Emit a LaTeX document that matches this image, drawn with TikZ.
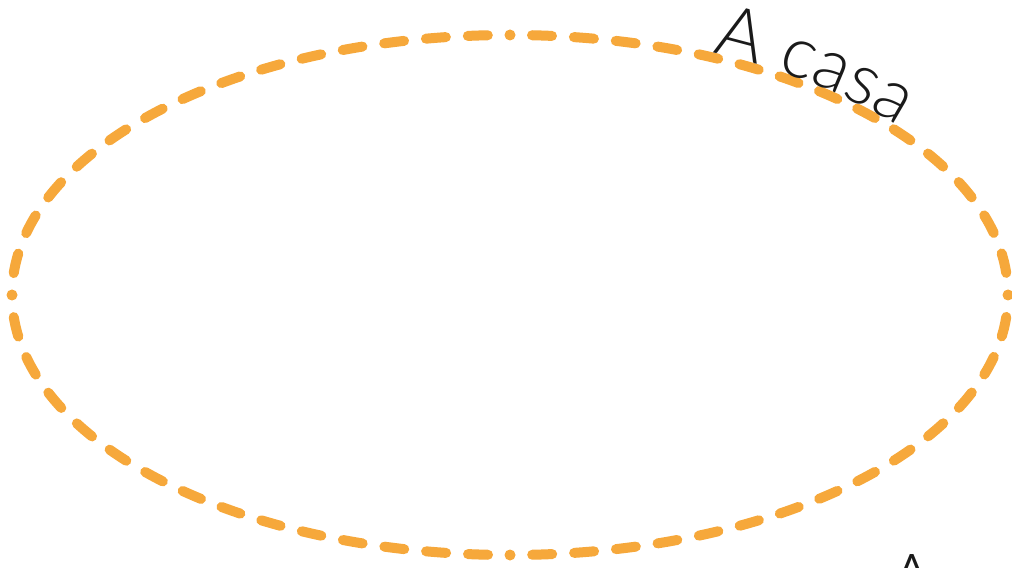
\documentclass[tikz,border=0pt]{standalone}
\usepackage{fontspec}
\IfFontExistsTF{Lato Light}{\newfontfamily\handfont{Lato Light}}{\newfontfamily\handfont{Liberation Sans}}
\usepackage{xcolor}
\usepackage{tikz}
\usetikzlibrary{decorations.text}
\definecolor{RimOrange} {HTML}{F6A83B}
\definecolor{InkText}   {HTML}{1A1A1A}
\tikzset{
  rim/.style={draw=RimOrange,line width=0.2cm,line cap=round,
              dash pattern=on 0.4cm off 0.44cm,dash phase=0.4cm},
  rimdot/.style={fill=RimOrange},
  labelfont/.style={font=\handfont\fontsize{41}{41}\selectfont,text=InkText}
}

\begin{document}
\begin{tikzpicture}
    \useasboundingbox (0,0) rectangle (20.24,11.34);
    \clip (0,0) rectangle (20.24,11.34);
    \coordinate (ctr) at (10.2,5.44);
    \coordinate (top) at (10.2,10.64);
    \coordinate (rgt) at (20.16,5.44);
    \coordinate (bot) at (10.2,0.24);
    \coordinate (lft) at (0.24,5.44);
    % the dashed ellipse, one quarter at a time
    \draw[rim] (top) arc[start angle=90,end angle=0,x radius=9.96cm,y radius=5.2cm];
    \draw[rim] (rgt) arc[start angle=0,end angle=-90,x radius=9.96cm,y radius=5.2cm];
    \draw[rim] (bot) arc[start angle=-90,end angle=-180,x radius=9.96cm,y radius=5.2cm];
    \draw[rim] (lft) arc[start angle=180,end angle=90,x radius=9.96cm,y radius=5.2cm];
    \foreach \p in {top,rgt,bot,lft}
      \fill[rimdot] (\p) circle (0.11);
    % label along the rim
    \path[decorate,decoration={text along path,text align=left,
          text={|\handfont\fontsize{41}{41}\selectfont\color{InkText}|A casa}}]
      (ctr) ++(66.3:10.06cm and 5.3cm)
      arc[start angle=66.3,end angle=15,x radius=10.06cm,y radius=5.3cm];
    \node[labelfont,anchor=north,inner sep=0pt] (lowA) at (18.24,0.26) {A};
\end{tikzpicture}
\end{document}
